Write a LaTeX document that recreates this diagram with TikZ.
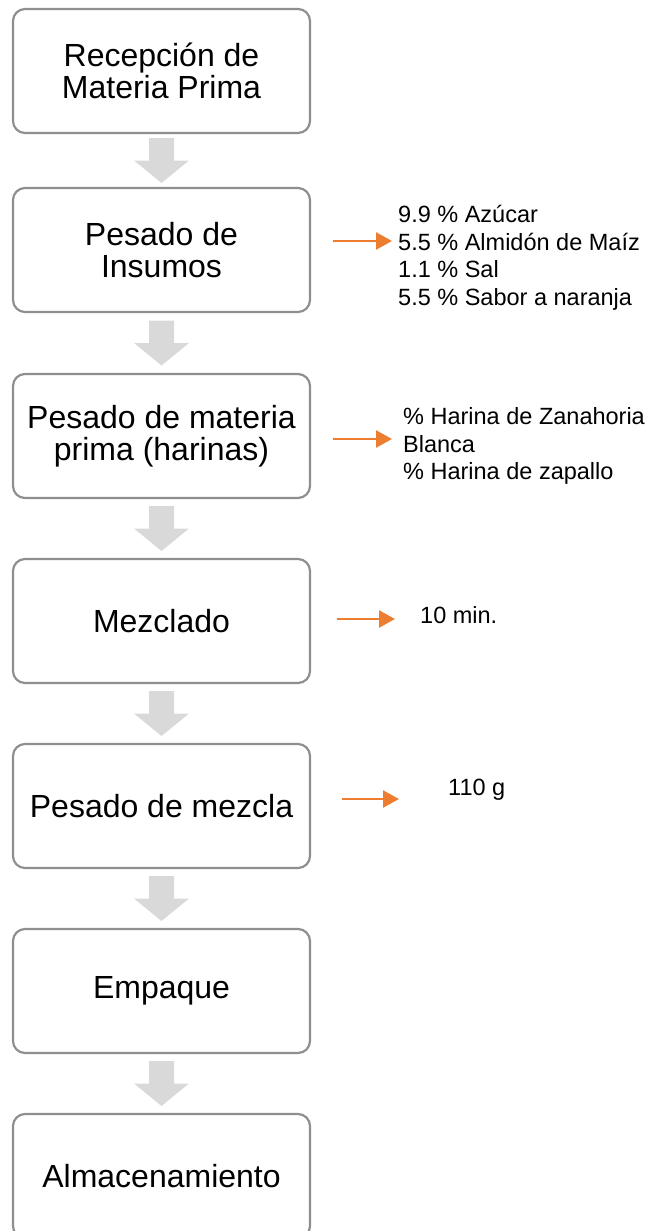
\documentclass[tikz,border=0pt]{standalone}
\usepackage{fontspec}
\setmainfont{Liberation Sans}
\usetikzlibrary{arrows.meta,calc}
\definecolor{boxgray}{HTML}{8F8F8F}
\definecolor{arrgray}{HTML}{D9D9D9}
\definecolor{orng}{HTML}{ED7D31}
\begin{document}
\begin{tikzpicture}[x=1pt,y=-1pt,
  stepbox/.style={draw=boxgray,line width=2.2pt,rounded corners=12pt,minimum width=297pt,minimum height=124pt,align=center,font=\fontsize{32}{32}\selectfont,inner sep=0pt,fill=white},
  note/.style={anchor=west,align=left,inner sep=0pt,font=\fontsize{23.5}{27.5}\selectfont},
  orarrow/.style={draw=orng,line width=2.4pt,-{Triangle[length=16pt,width=17pt]}},
  blockarrow/.style={fill=arrgray}]
\useasboundingbox (0,0) rectangle (656,1231);
\clip (0,0) rectangle (656,1231);
\node[stepbox] (b1) at (161.5,71) {Recepción de\\Materia Prima};
\node[stepbox] (b2) at (161.5,250) {Pesado de\\Insumos};
\node[stepbox] (b3) at (161.5,436) {Pesado de materia\\prima (harinas)};
\node[stepbox] (b4) at (161.5,621) {Mezclado};
\node[stepbox] (b5) at (161.5,806) {Pesado de mezcla};
\node[stepbox] (b6) at (161.5,991) {Empaque};
\node[stepbox] (b7) at (161.5,1176) {Almacenamiento};
\foreach \a/\b in {b1/b2,b2/b3,b3/b4,b4/b5,b5/b6,b6/b7}{
  \path ($(\a.south)!0.5!(\b.north)$) coordinate (m);
  \fill[blockarrow] ($(m)+(-12.5,-22.5)$) -- ($(m)+(12.5,-22.5)$) -- ($(m)+(12.5,0)$) -- ($(m)+(27.5,0)$) -- ($(m)+(0,22.5)$) -- ($(m)+(-27.5,0)$) -- ($(m)+(-12.5,0)$) -- cycle;
}
\node[note] (n2) at (398,258) {9.9 \% Azúcar\\5.5 \% Almidón de Maíz\\1.1 \% Sal\\5.5 \% Sabor a naranja};
\node[note] (n3) at (403,446) {\% Harina de Zanahoria\\Blanca\\\% Harina de zapallo};
\node[note] (n4) at (420,615) {10 min.};
\node[note] (n5) at (448,790) {110 g};
\coordinate (s2) at (333,241); \coordinate (e2) at (392,241);
\coordinate (s3) at (333,439); \coordinate (e3) at (392,439);
\coordinate (s4) at (337,619); \coordinate (e4) at (395,619);
\coordinate (s5) at (342,799); \coordinate (e5) at (399,799);
\draw[orarrow] (s2) -- (e2);
\draw[orarrow] (s3) -- (e3);
\draw[orarrow] (s4) -- (e4);
\draw[orarrow] (s5) -- (e5);
\end{tikzpicture}
\end{document}
